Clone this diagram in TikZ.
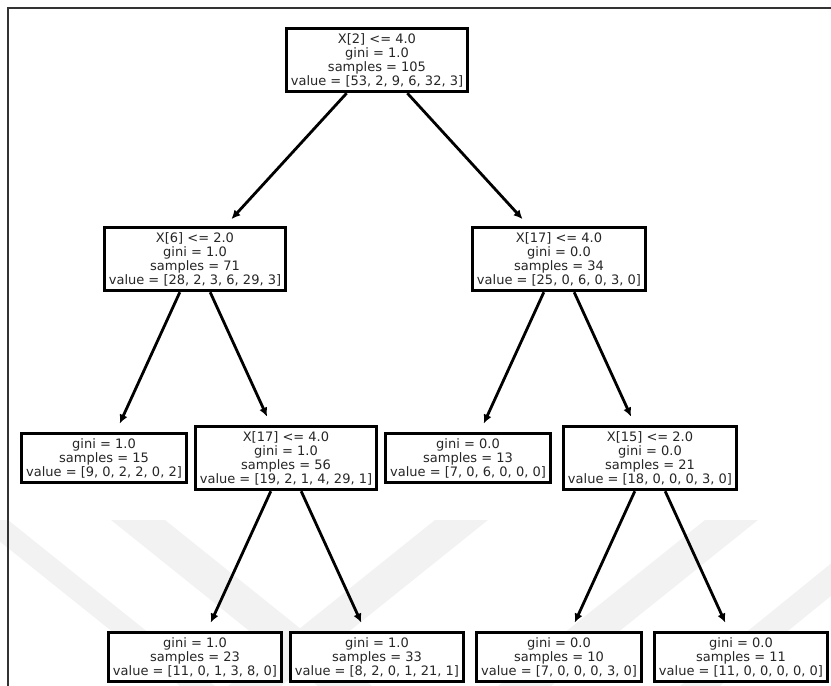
\documentclass[tikz,border=0pt]{standalone}
\usepackage{fontspec}
\newfontfamily\treefont{DejaVu Sans}
\usetikzlibrary{arrows.meta}
\begin{document}
\begin{tikzpicture}[x=1pt,y=-1pt,
  box/.style={draw=black, line width=3.6pt, fill=white, align=center,
    inner xsep=4.5pt, inner ysep=4.6pt, text=black!85,
    font={\treefont\fontsize{13}{14}\selectfont}},
  link/.style={line width=2.8pt, -{Latex[length=9pt,width=8.5pt]}, shorten >=9pt},
  band/.style={fill=black!5, draw=none}]
\useasboundingbox (0,0) rectangle (831,686);

% faint background chevrons
\fill[band] (-27,520) -- (8,520) -- (215,686) -- (180,686) -- cycle;
\fill[band] (111,520) -- (165,520) -- (372,686) -- (318,686) -- cycle;
\fill[band] (435,520) -- (488,520) -- (281,686) -- (228,686) -- cycle;
\fill[band] (705,520) -- (758,520) -- (551,686) -- (498,686) -- cycle;
\fill[band] (860,540) -- (900,540) -- (720,686) -- (680,686) -- cycle;

% frame
\draw[line width=1.6pt, black!80] (8,686) -- (8,8) -- (831,8);

% decision tree
\node[box] (n0) at (377,60) {X[2] <= 4.0\\gini = 1.0\\samples = 105\\value = [53, 2, 9, 6, 32, 3]};
\node[box] (n1) at (195,259) {X[6] <= 2.0\\gini = 1.0\\samples = 71\\value = [28, 2, 3, 6, 29, 3]};
\node[box] (n2) at (559,259) {X[17] <= 4.0\\gini = 0.0\\samples = 34\\value = [25, 0, 6, 0, 3, 0]};
\node[box] (n3) at (104,458) {gini = 1.0\\samples = 15\\value = [9, 0, 2, 2, 0, 2]};
\node[box] (n4) at (286,458) {X[17] <= 4.0\\gini = 1.0\\samples = 56\\value = [19, 2, 1, 4, 29, 1]};
\node[box] (n5) at (468,458) {gini = 0.0\\samples = 13\\value = [7, 0, 6, 0, 0, 0]};
\node[box] (n6) at (650,458) {X[15] <= 2.0\\gini = 0.0\\samples = 21\\value = [18, 0, 0, 0, 3, 0]};
\node[box] (n7) at (195,657) {gini = 1.0\\samples = 23\\value = [11, 0, 1, 3, 8, 0]};
\node[box] (n8) at (377,657) {gini = 1.0\\samples = 33\\value = [8, 2, 0, 1, 21, 1]};
\node[box] (n9) at (559,657) {gini = 0.0\\samples = 10\\value = [7, 0, 0, 0, 3, 0]};
\node[box] (n10) at (741,657) {gini = 0.0\\samples = 11\\value = [11, 0, 0, 0, 0, 0]};

\draw[link] (n0) -- (n1);
\draw[link] (n0) -- (n2);
\draw[link] (n1) -- (n3);
\draw[link] (n1) -- (n4);
\draw[link] (n2) -- (n5);
\draw[link] (n2) -- (n6);
\draw[link] (n4) -- (n7);
\draw[link] (n4) -- (n8);
\draw[link] (n6) -- (n9);
\draw[link] (n6) -- (n10);
\end{tikzpicture}
\end{document}
